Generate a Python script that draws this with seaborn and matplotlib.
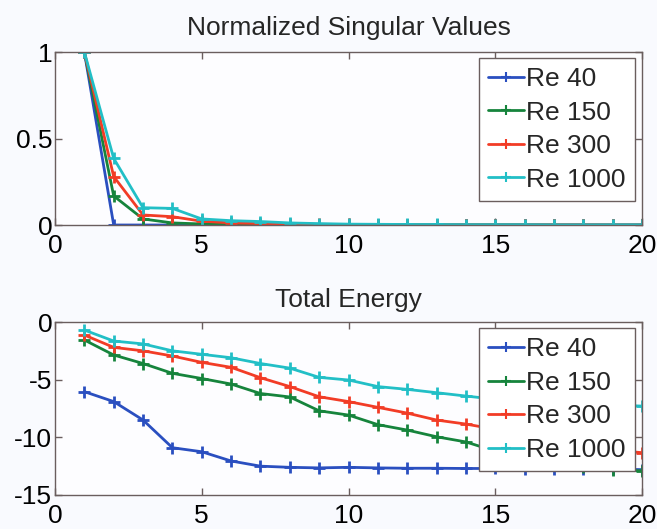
import numpy as np
import pandas as pd
import matplotlib
matplotlib.use("Agg")
import matplotlib.pyplot as plt
import seaborn as sns

sns.set_style("white")
plt.rcParams['font.family'] = ['Liberation Sans', 'DejaVu Sans']

modes = list(range(1, 21))
labels = ["Re 40", "Re 150", "Re 300", "Re 1000"]

sv_re40 = [1, 0, 0, 0, 0, 0, 0, 0, 0, 0, 0, 0, 0, 0, 0, 0, 0, 0, 0, 0]
sv_re150 = [1, 0.168, 0.035, 0.012, 0.006, 0.004, 0.003, 0.002, 0.002, 0.001,
            0.001, 0.001, 0.001, 0.001, 0.001, 0.001, 0.0, 0.0, 0.0, 0.0]
sv_re300 = [1, 0.28, 0.058, 0.048, 0.022, 0.012, 0.008, 0.005, 0.004, 0.003,
            0.002, 0.002, 0.002, 0.001, 0.001, 0.001, 0.001, 0.001, 0.0, 0.0]
sv_re1000 = [1, 0.385, 0.10, 0.096, 0.035, 0.025, 0.02, 0.012, 0.008, 0.005,
             0.004, 0.003, 0.003, 0.002, 0.002, 0.002, 0.001, 0.001, 0.001, 0.001]

en_re40 = [-6.04, -6.9, -8.5, -10.9, -11.25, -12.05, -12.5, -12.6, -12.65, -12.6,
           -12.65, -12.68, -12.68, -12.7, -12.7, -12.72, -12.72, -12.75, -12.75, -12.8]
en_re150 = [-1.56, -2.86, -3.6, -4.45, -4.9, -5.38, -6.2, -6.5, -7.7, -8.07,
            -8.9, -9.37, -9.95, -10.4, -11.2, -11.8, -12.3, -12.6, -12.85, -12.9]
en_re300 = [-1.13, -2.2, -2.5, -2.95, -3.5, -3.93, -4.83, -5.6, -6.48, -6.9,
            -7.4, -7.9, -8.5, -8.85, -9.3, -9.8, -10.3, -10.7, -11.1, -11.33]
en_re1000 = [-0.7, -1.65, -1.9, -2.5, -2.8, -3.1, -3.6, -4.0, -4.8, -5.03,
             -5.6, -5.84, -6.13, -6.42, -6.7, -6.9, -7.0, -7.1, -7.2, -7.29]

colors = ["#2a4fc0", "#16843c", "#f23c26", "#22bfc6"]
palette = dict(zip(labels, colors))

def long_df(series):
    rows = []
    for lab, vals in zip(labels, series):
        for m, v in zip(modes, vals):
            rows.append({"mode": m, "value": v, "Re": lab})
    return pd.DataFrame(rows)

df_sv = long_df([sv_re40, sv_re150, sv_re300, sv_re1000])
df_en = long_df([en_re40, en_re150, en_re300, en_re1000])

fig = plt.figure(figsize=(6.57, 5.29), dpi=100)
fig.patch.set_facecolor("#f9fafe")
W, H = 657, 529
ax1 = fig.add_axes([55 / W, 1 - 225 / H, 587 / W, 173 / H])
ax2 = fig.add_axes([55 / W, 1 - 495 / H, 587 / W, 173 / H])

fs = 19
spine_col = "#6a5e5e"

for ax, df, title, ylim, yticks, leg_box, tpad in [
    (ax1, df_sv, "Normalized Singular Values", (0, 1), [0, 0.5, 1], (479, 58, 635, 199), 12),
    (ax2, df_en, "Total Energy", (-15, 0), [-15, -10, -5, 0], (479, 328, 635, 468), 11),
]:
    ax.set_facecolor("#fdfdff")
    sns.lineplot(data=df, x="mode", y="value", hue="Re", palette=palette,
                 hue_order=labels, marker="+", markersize=8, markeredgewidth=2,
                 linewidth=2.0, ax=ax, legend="auto")
    for ln in ax.get_lines():
        ln.set_markeredgecolor(ln.get_color())
        ln.set_markerfacecolor(ln.get_color())
    ax.set_xlim(0, 20)
    ax.set_ylim(*ylim)
    ax.set_xticks([0, 5, 10, 15, 20])
    ax.set_yticks(yticks)
    ax.set_yticklabels([("%g" % t) for t in yticks])
    ax.set_xlabel("")
    ax.set_ylabel("")
    ax.set_title(title, fontsize=fs, pad=tpad)
    ax.tick_params(direction="in", length=5, width=1, colors=spine_col,
                   labelcolor="black", labelsize=fs, top=True, right=True,
                   left=True, bottom=True)
    ax.tick_params(axis="x", pad=6.5)
    ax.tick_params(axis="y", pad=2)
    for s in ax.spines.values():
        s.set_color(spine_col)
        s.set_linewidth(1)
    handles, labs = ax.get_legend_handles_labels()
    ax.get_legend().remove()
    for h in handles:
        h.set_markeredgecolor(h.get_color())
        h.set_markersize(7)
        h.set_markeredgewidth(1.5)
    x0, y0, x1, y1 = leg_box
    leg = ax.legend(handles, labs, loc="upper right",
                    bbox_to_anchor=(x1 / W, 1 - y0 / H), bbox_transform=fig.transFigure,
                    fontsize=fs, frameon=True, fancybox=False, borderaxespad=0,
                    handlelength=1.35, handletextpad=0.1, borderpad=0.35,
                    labelspacing=0.36)
    leg.get_frame().set_edgecolor(spine_col)
    leg.get_frame().set_linewidth(1)
    leg.get_frame().set_facecolor("white")
    leg.get_frame().set_alpha(1)

fig.savefig("out.png", dpi=100, facecolor=fig.get_facecolor())
